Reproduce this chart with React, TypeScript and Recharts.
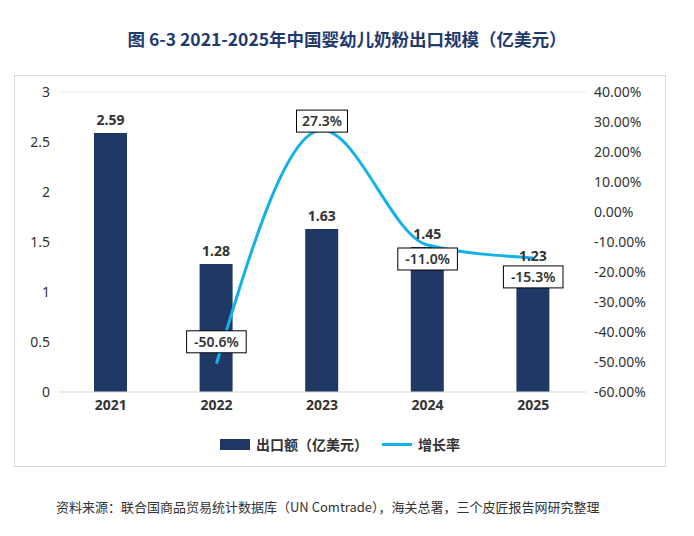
import React from "react";
import { ComposedChart, Bar, Line, XAxis, YAxis, CartesianGrid, LabelList } from "recharts";

const years = ["2021", "2022", "2023", "2024", "2025"];
const exportValue = [2.59, 1.28, 1.63, 1.45, 1.23];
const growthRate: (number | null)[] = [null, -50.6, 27.3, -11.0, -15.3];
const leftTicks = [0, 0.5, 1, 1.5, 2, 2.5, 3];
const rightTicks = [-60, -50, -40, -30, -20, -10, 0, 10, 20, 30, 40];

const data = years.map((y, i) => ({ year: y, value: exportValue[i], rate: growthRate[i] }));

const NAVY = "#1F3864";
const CYAN = "#12B1EA";
const FONT = "'Noto Sans', 'Noto Sans CJK SC', sans-serif";
const labelDy = [0, -22, -9, 14, 19];

const RateLabel = (props: any) => {
  const { x, y, value, index } = props;
  if (value == null) return null;
  const text = value.toFixed(1) + "%";
  const w = text.length * 8.6 + 8;
  const cy = y + labelDy[index];
  return (
    <g>
      <rect x={x - w / 2} y={cy - 11} width={w} height={22} fill="#fff" stroke="#000" strokeWidth={1} />
      <text x={x} y={cy + 5} textAnchor="middle" fontSize={14} fontWeight={600} fill="#333" fontFamily={FONT}>{text}</text>
    </g>
  );
};

export default function App() {
  return (
    <div style={{ position: "absolute", left: 0, top: 0, width: 694, height: 536, background: "#fff", fontFamily: FONT }}>
      <div style={{ position: "absolute", top: 26, width: 694, textAlign: "center", fontSize: 17.5, fontWeight: "bold", color: "#1F3A6E", fontFamily: "'Noto Sans CJK SC', sans-serif" }}>
        图 6-3 2021-2025年中国婴幼儿奶粉出口规模（亿美元）
      </div>
      <div style={{ position: "absolute", left: 14, top: 75, width: 652, height: 392, border: "1px solid #d9d9d9", boxSizing: "border-box" }}>
        <ComposedChart width={650} height={390} data={data} margin={{ top: 16, right: 0, left: 0, bottom: 44 }}>
          <CartesianGrid vertical={false} stroke="#ececec" />
          <XAxis dataKey="year" axisLine={{ stroke: "#e0e0e0" }} tickLine={false} height={30}
            tick={{ fontSize: 14, fontWeight: "bold", fill: "#333", fontFamily: FONT }} />
          <YAxis yAxisId="l" domain={[0, 3]} ticks={leftTicks} width={43} axisLine={false} tickLine={false}
            tick={{ fontSize: 14, fill: "#333", fontFamily: FONT }} />
          <YAxis yAxisId="r" orientation="right" domain={[-60, 40]} ticks={rightTicks} width={79} axisLine={false} tickLine={false}
            tickFormatter={(v: number) => v.toFixed(2) + "%"} tick={{ fontSize: 14, fill: "#333", fontFamily: FONT, textAnchor: "start" }} />
          <Bar yAxisId="l" dataKey="value" fill={NAVY} barSize={33} isAnimationActive={false}>
            <LabelList dataKey="value" position="top" offset={8} style={{ fontSize: 14, fontWeight: "bold", fill: "#333", fontFamily: FONT }}
              formatter={(v: number) => v.toFixed(2)} />
          </Bar>
          <Line yAxisId="r" dataKey="rate" type="monotone" stroke={CYAN} strokeWidth={3} dot={false} connectNulls isAnimationActive={false}>
            <LabelList dataKey="rate" content={RateLabel} />
          </Line>
        </ComposedChart>
        <div style={{ position: "absolute", top: 358, width: 650, display: "flex", justifyContent: "center", alignItems: "center", fontSize: 14, fontWeight: "bold", color: "#333", fontFamily: "'Noto Sans CJK SC', sans-serif" }}>
          <span style={{ display: "inline-block", width: 30, height: 11, background: NAVY, marginRight: 6 }} />
          <span>出口额（亿美元）</span>
          <span style={{ display: "inline-block", width: 30, height: 3, background: CYAN, marginLeft: 14, marginRight: 6 }} />
          <span>增长率</span>
        </div>
      </div>
      <div style={{ position: "absolute", top: 497, left: 56, fontSize: 13, color: "#333", fontFamily: "'Noto Sans CJK SC', sans-serif" }}>
        资料来源：联合国商品贸易统计数据库（UN Comtrade），海关总署，三个皮匠报告网研究整理
      </div>
    </div>
  );
}
